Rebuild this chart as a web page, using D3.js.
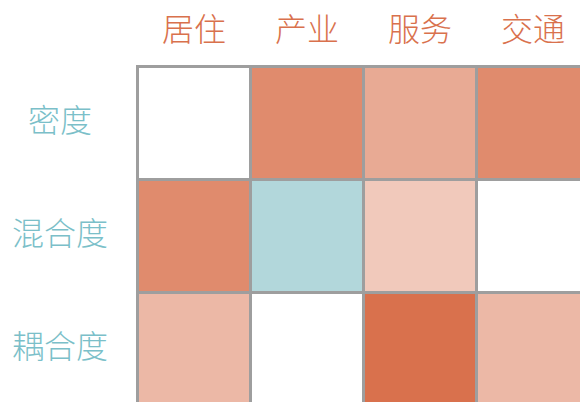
<!DOCTYPE html>
<html lang="zh">
<meta charset="utf-8"/>
<head>
<script src="https://d3js.org/d3.v7.min.js"></script>
<style>
  body { margin: 0; background: #fff; }
  .col-label { fill: #d9714d; font: 300 32px "Noto Sans CJK SC", sans-serif; }
  .row-label { fill: #7bbfc9; font: 300 32px "Noto Sans CJK SC", sans-serif; }
  .cell { stroke: #9e9e9e; stroke-width: 3; }
</style>
</head>
<body>
<script>
// categories
var cols = ["居住", "产业", "服务", "交通"];
var rows = ["密度", "混合度", "耦合度"];
// values per row (-1 blue ... 0 white ... 1 orange)
var density  = [0,   0.82, 0.6,  0.82];
var mixing   = [0.82, -1,  0.38, 0];
var coupling = [0.5,  0,   1,    0.5];
var values = [density, mixing, coupling];

var width = 580, height = 402;
var x0 = 137.5, y0 = 66.5, step = 113;

var svg = d3.select("body").append("svg")
    .attr("width", width)
    .attr("height", height);

var x = d3.scaleBand().domain(cols).range([x0, x0 + step * cols.length]);
var y = d3.scaleBand().domain(rows).range([y0, y0 + step * rows.length]);

var color = d3.scaleLinear()
    .domain([-1, 0, 1])
    .range(["#b2d7db", "#ffffff", "#d9714d"]);

var cells = [];
rows.forEach(function(r, i){
  cols.forEach(function(c, j){
    cells.push({row: r, col: c, v: values[i][j]});
  });
});

svg.selectAll(".cell")
    .data(cells).enter()
    .append("rect")
    .attr("class", "cell")
    .attr("x", function(d){ return x(d.col); })
    .attr("y", function(d){ return y(d.row); })
    .attr("width", x.bandwidth())
    .attr("height", y.bandwidth())
    .attr("fill", function(d){ return color(d.v); });

svg.selectAll(".col-label")
    .data(cols).enter()
    .append("text")
    .attr("class", "col-label")
    .attr("text-anchor", "middle")
    .attr("x", function(d){ return x(d) + x.bandwidth() / 2; })
    .attr("y", 30)
    .attr("dy", "0.35em")
    .text(function(d){ return d; });

svg.selectAll(".row-label")
    .data(rows).enter()
    .append("text")
    .attr("class", "row-label")
    .attr("text-anchor", "middle")
    .attr("x", 60)
    .attr("y", function(d){ return y(d) + y.bandwidth() / 2 - 2; })
    .attr("dy", "0.35em")
    .text(function(d){ return d; });
</script>
</body>
</html>
